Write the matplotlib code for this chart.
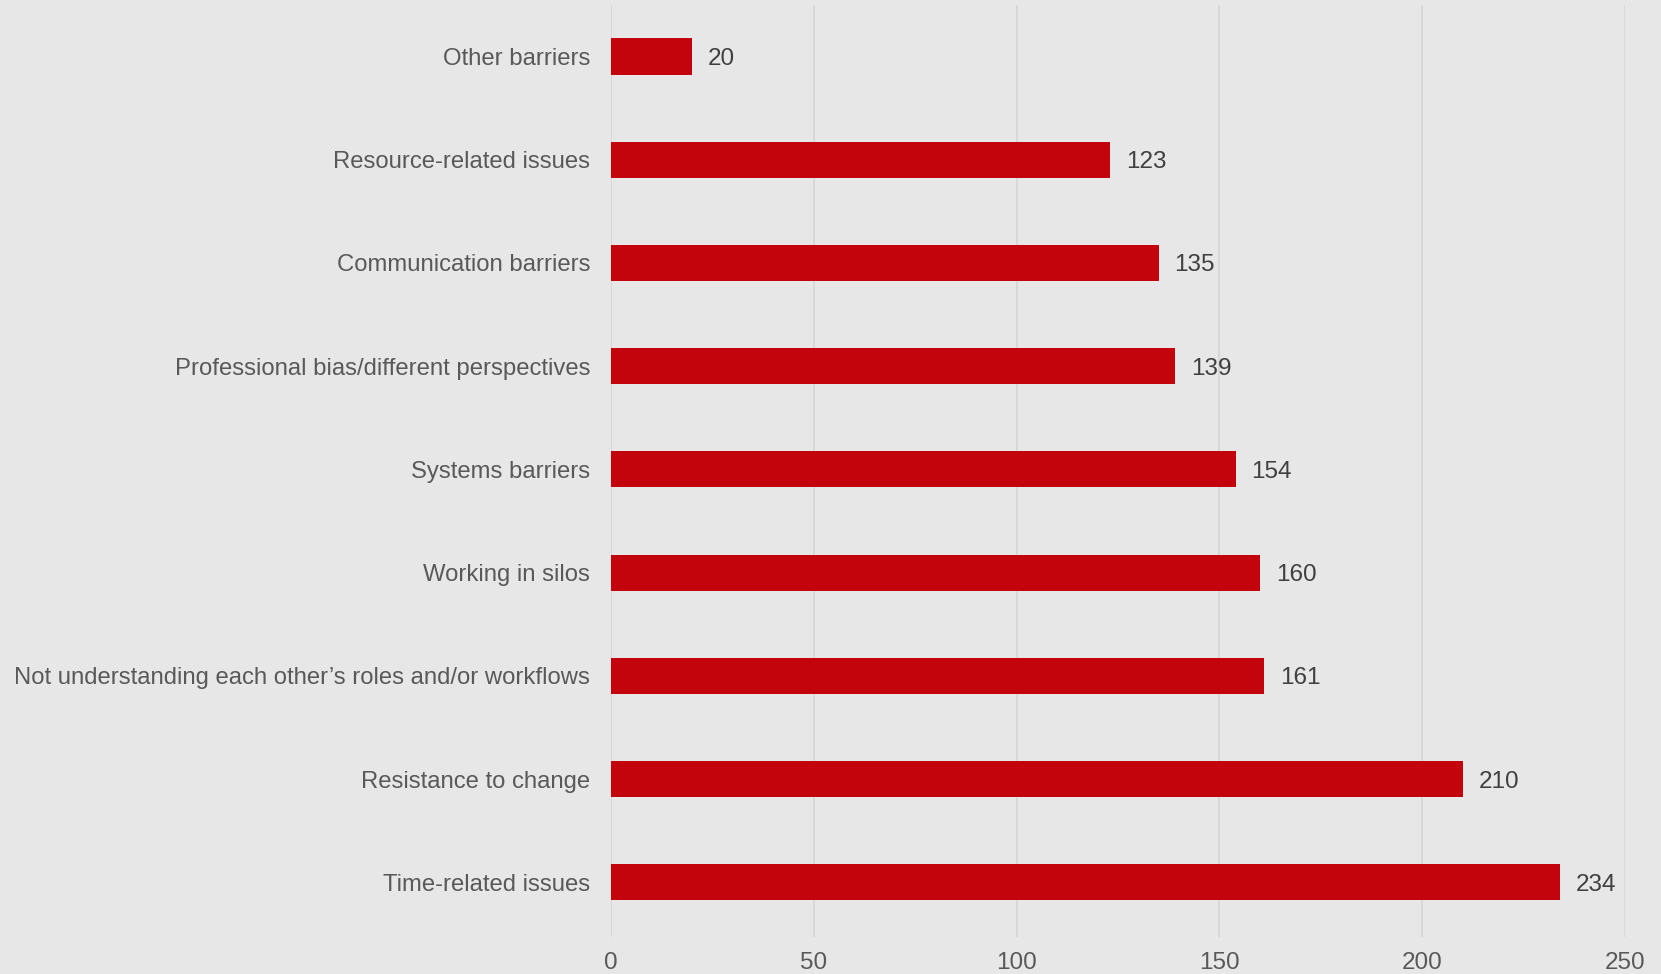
import matplotlib.pyplot as plt

# Barrier categories (bottom to top) and counts
categories = [
    "Time-related issues",
    "Resistance to change",
    "Not understanding each other\u2019s roles and/or workflows",
    "Working in silos",
    "Systems barriers",
    "Professional bias/different perspectives",
    "Communication barriers",
    "Resource-related issues",
    "Other barriers",
]
counts = [234, 210, 161, 160, 154, 139, 135, 123, 20]
x_ticks = [0, 50, 100, 150, 200, 250]

plt.rcParams['font.family'] = ['Liberation Sans', 'DejaVu Sans']

bg = "#E7E7E7"
fig = plt.figure(figsize=(16.61, 9.74), dpi=100, facecolor=bg)
ax = fig.add_axes([0.3679, 0.038, 0.6104, 0.957], facecolor=bg)

y = range(len(categories))
bars = ax.barh(y, counts, height=0.35, color="#C4040C", zorder=3)

# Value labels at the end of each bar
for bar, v in zip(bars, counts):
    ax.annotate(str(v), (bar.get_width(), bar.get_y() + bar.get_height() / 2),
                xytext=(11.5, 0), textcoords="offset points",
                va="center_baseline", ha="left", fontsize=17.5, color="#404040")

ax.set_xlim(0, 250)
ax.set_ylim(-0.53, 8.5)
ax.set_xticks(x_ticks)
ax.set_yticks(list(y))
ax.set_yticklabels(categories)
ax.tick_params(axis="x", length=0, pad=11, labelsize=17.5, labelcolor="#595959")
ax.tick_params(axis="y", length=0, pad=15, labelsize=17.2, labelcolor="#595959")
ax.grid(axis="x", color="#D6D6D6", linewidth=1.2, zorder=0)
for s in ax.spines.values():
    s.set_visible(False)

plt.savefig("out.png", dpi=100, facecolor=bg)
